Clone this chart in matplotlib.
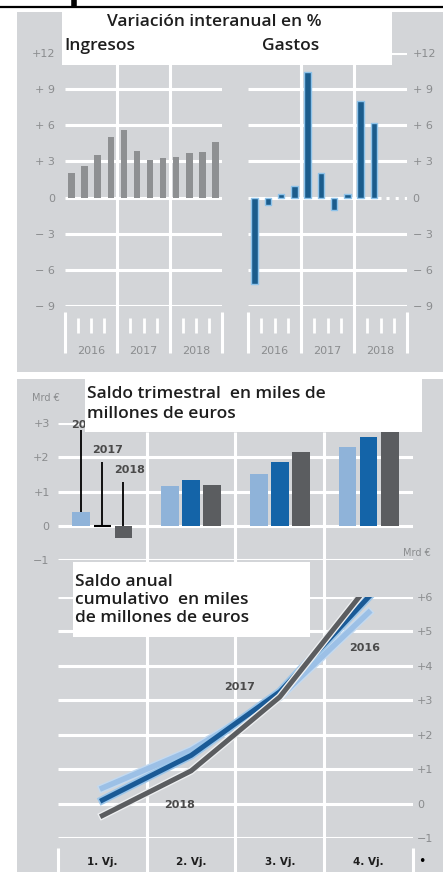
import numpy as np
import matplotlib.pyplot as plt
from matplotlib.patches import Rectangle
import matplotlib.patheffects as pe

W, H = 443, 872

# --- data ---
years = ["2016", "2017", "2018"]
quarters = ["1. Vj.", "2. Vj.", "3. Vj.", "4. Vj."]

ingresos = [2.0, 2.6, 3.5, 5.0, 5.6, 3.9, 3.1, 3.3, 3.4, 3.7, 3.8, 4.6]
gastos = [-7.2, -0.6, 0.3, 1.0, 10.4, 2.0, -1.0, 0.3, 8.0, 6.2, np.nan, np.nan]

saldo_2016 = [0.4, 1.15, 1.5, 2.3]
saldo_2017 = [0.03, 1.35, 1.85, 2.6]
saldo_2018 = [-0.35, 1.2, 2.15, 3.2]

acum_2016 = [0.45, 1.55, 3.1, 5.55]
acum_2017 = [0.1, 1.4, 3.25, 6.0]
acum_2018 = [-0.35, 0.95, 3.1, 6.35]

pct_ticks = [12, 9, 6, 3, 0, -3, -6, -9]
pct_labels = ["+12", "+ 9", "+ 6", "+ 3", "0", "\u2212 3", "\u2212 6", "\u2212 9"]
q_ticks = [3, 2, 1, 0, -1]
q_labels = ["+3", "+2", "+1", "0", "\u22121"]
c_ticks = [6, 5, 4, 3, 2, 1, 0, -1]
c_labels = ["+6", "+5", "+4", "+3", "+2", "+1", "0", "\u22121"]

GRAY_BG = "#d3d5d8"
TICK_C = "#8a8c8e"
C16, C17, C18 = "#8fb3d9", "#1464a8", "#5b5d60"

fig = plt.figure(figsize=(W / 100, H / 100), dpi=100)


def px_axes(x0, y0, x1, y1):
    ax = fig.add_axes([x0 / W, 1 - y1 / H, (x1 - x0) / W, (y1 - y0) / H])
    ax.set_facecolor("none")
    for s in ax.spines.values():
        s.set_visible(False)
    return ax


# background layer in pixel coords
bg = fig.add_axes([0, 0, 1, 1])
bg.set_xlim(0, W)
bg.set_ylim(H, 0)
bg.axis("off")
bg.add_patch(Rectangle((17, 12), W - 17, 360, color=GRAY_BG, lw=0))
bg.add_patch(Rectangle((17, 379), W - 17, H - 379, color=GRAY_BG, lw=0))
bg.hlines(7, 0, W, color="black", lw=1.6)
bg.vlines(74, 0, 7, color="black", lw=4)
bg.text(32, 398, "Mrd \u20ac", fontsize=7, color=TICK_C, va="center")
bg.text(403, 553, "Mrd \u20ac", fontsize=7, color=TICK_C, va="center")
bg.text(422, 861, "\u2022", fontsize=9, color="black", ha="center", va="center")


# --- top: variación interanual ---
def pct_panel(ax, values, color, edge, right):
    x = np.arange(len(values))
    ax.set_xlim(-0.5, 11.5)
    ax.set_ylim(-9, 12)
    vals = np.array(values, dtype=float)
    last = np.where(~np.isnan(vals))[0].max()
    for t in pct_ticks:
        if t == 0:
            ax.hlines(0, -0.5, last + 0.5, color="white", lw=2.2, zorder=1)
            if last < len(vals) - 1:
                ax.hlines(0, last + 0.9, 11.5, color="white", lw=2.2,
                          linestyles=(0, (1, 2)), zorder=1)
        else:
            ax.hlines(t, -0.5, 11.5, color="white", lw=2.2, zorder=1)
    ax.vlines([3.5, 7.5], -12.9, 12, color="white", lw=2.2, clip_on=False, zorder=1)
    ax.vlines([-0.5, 11.5], -12.9, -9.5, color="white", lw=2.2, clip_on=False, zorder=1)
    qb = [i + 0.5 for i in range(11) if (i + 1) % 4 != 0]
    ax.vlines(qb, -11.2, -10.0, color="white", lw=2.0, clip_on=False, zorder=1)
    ax.bar(x, vals, width=0.5, color=color, edgecolor=edge, lw=1.0 if edge else 0, zorder=2)
    ax.set_xticks([1.5, 5.5, 9.5], years)
    ax.set_yticks(pct_ticks, pct_labels)
    ax.tick_params(axis="x", length=0, pad=29, labelsize=8, labelcolor=TICK_C)
    ax.tick_params(axis="y", length=0, labelsize=8, labelcolor=TICK_C)
    if right:
        ax.yaxis.tick_right()
        ax.tick_params(axis="y", pad=4)
    else:
        ax.tick_params(axis="y", pad=7)


ax_ing = px_axes(65, 53, 222, 306)
pct_panel(ax_ing, ingresos, "#8e9092", None, False)
ax_gas = px_axes(248, 53, 407, 306)
pct_panel(ax_gas, gastos, "#1b5c8c", "#8ec3ea", True)

# --- bottom: saldo trimestral bars ---
xq = np.arange(1, 5)
axq = px_axes(58, 423, 413, 560)
axq.set_xlim(0.5, 4.5)
axq.set_ylim(-1, 3)
axq.hlines(q_ticks, 0.5, 4.5, color="white", lw=2.2, zorder=1)
off, bw = 0.237, 0.2
axq.bar(xq - off, saldo_2016, width=bw, color=C16, zorder=2)
axq.bar(xq, saldo_2017, width=bw, color=C17, zorder=2)
axq.bar(xq + off, saldo_2018, width=bw, color=C18, zorder=2)
axq.set_xticks([])
axq.set_yticks(q_ticks, q_labels)
axq.tick_params(axis="y", length=0, pad=6, labelsize=8, labelcolor=TICK_C)

# leader lines for year labels on the first quarter
lead = [(-off, saldo_2016[0], 2.8, 2.94, "2016"),
        (0.0, saldo_2017[0], 1.86, 2.21, "2017"),
        (off, saldo_2018[0], 1.28, 1.63, "2018")]
for dx, v, top_v, lab_y, lab in lead:
    axq.vlines(1 + dx, max(v, 0), top_v, color="black", lw=1.3, zorder=3)
    axq.text(1 + dx - 0.11, lab_y, lab, fontsize=8, fontweight="bold",
             color="#4a4a4a", va="center", ha="left", zorder=3)
axq.hlines(0, 1 - 0.1, 1 + 0.1, color="black", lw=1.5, zorder=3)

# --- bottom: saldo anual cumulativo lines ---
axc = px_axes(58, 597, 413, 838)
axc.set_xlim(0.5, 4.5)
axc.set_ylim(-1, 6)
axc.hlines(c_ticks, 0.5, 4.5, color="white", lw=2.2, zorder=1)
axc.vlines([1.5, 2.5, 3.5], -1 - 34 / 34.43, 6 + (597 - 432) / 34.43,
           color="white", lw=2.2, clip_on=False, zorder=0.5)
axc.vlines([0.5, 4.5], -1 - 34 / 34.43, -1 - 10 / 34.43,
           color="white", lw=2.2, clip_on=False, zorder=0.5)
axc.plot(xq, acum_2016, color="#9cc0e6", lw=4, zorder=3,
         path_effects=[pe.withStroke(linewidth=6, foreground="#c4daf0")])
axc.plot(xq, acum_2017, color="#1a5a96", lw=3.6, zorder=4,
         path_effects=[pe.withStroke(linewidth=6, foreground="#9cc6ea")])
axc.plot(xq, acum_2018, color=C18, lw=3.6, zorder=5,
         path_effects=[pe.withStroke(linewidth=5.5, foreground="#eef0f2")])
axc.text(3.96, 4.52, "2016", fontsize=8, fontweight="bold", color="#4a4a4a",
         ha="center", va="center", zorder=6)
axc.text(2.55, 3.39, "2017", fontsize=8, fontweight="bold", color="#4a4a4a",
         ha="center", va="center", zorder=6)
axc.text(1.87, -0.04, "2018", fontsize=8, fontweight="bold", color="#4a4a4a",
         ha="center", va="center", zorder=6)
axc.set_xticks(xq, quarters)
axc.yaxis.tick_right()
axc.set_yticks(c_ticks, c_labels)
axc.tick_params(axis="x", length=0, pad=14, labelsize=7.5, labelcolor="#1e1e1e")
for lab in axc.get_xticklabels():
    lab.set_fontweight("bold")
axc.tick_params(axis="y", length=0, pad=3, labelsize=8, labelcolor=TICK_C)

# --- overlay: white title boxes ---
top = fig.add_axes([0, 0, 1, 1])
top.set_facecolor("none")
top.set_xlim(0, W)
top.set_ylim(H, 0)
top.axis("off")
tfont = dict(family="Open Sans", fontweight="semibold", color="#1e1e1e", fontsize=12.5)
top.add_patch(Rectangle((62, 9), 330, 56, color="white", lw=0))
top.text(214, 22, "Variación interanual en %", ha="center", va="center", **tfont)
top.text(64, 46, "Ingresos", ha="left", va="center", **tfont)
top.text(262, 46, "Gastos", ha="left", va="center", **tfont)
top.add_patch(Rectangle((85, 379), 337, 53, color="white", lw=0))
top.text(87, 404, "Saldo trimestral  en miles de\nmillones de euros", ha="left",
         va="center", linespacing=1.3, **tfont)
top.add_patch(Rectangle((73, 562), 237, 75, color="white", lw=0))
top.text(75, 600, "Saldo anual\ncumulativo  en miles\nde millones de euros", ha="left",
         va="center", linespacing=1.15, **tfont)

fig.savefig("out.png", dpi=100)
